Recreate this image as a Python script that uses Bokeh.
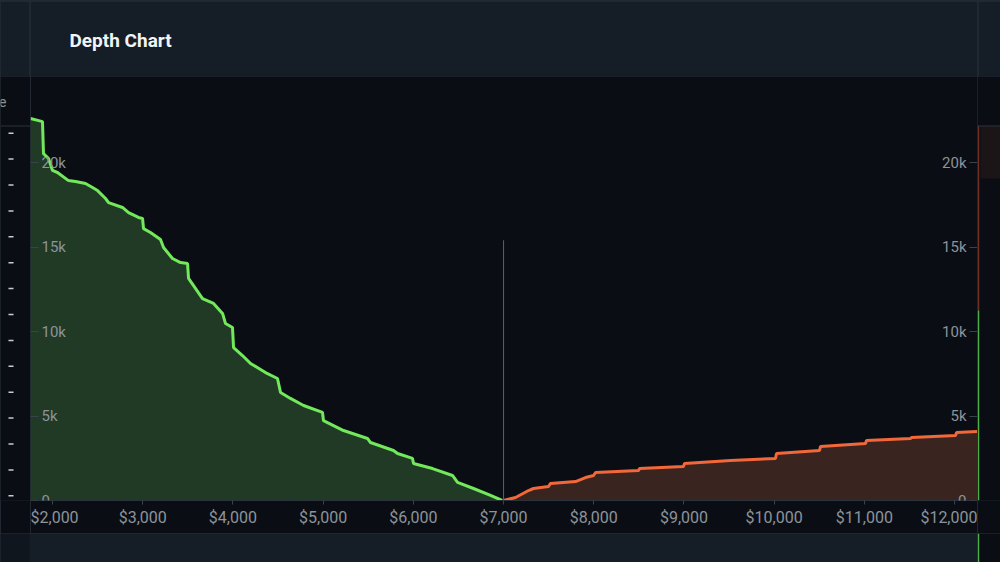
from bokeh.plotting import figure
from bokeh.models import Range1d, LinearAxis, FixedTicker, Span
from bokeh.layouts import column, row
from bokeh.embed import file_html
from bokeh.resources import INLINE
from bokeh.core.properties import value

# ---- order book depth (price in USD, cumulative size) ----
bid_prices = [1756, 1889, 1900, 1956, 2000, 2055, 2177, 2255, 2366, 2443,
              2499, 2588, 2621, 2776, 2843, 2953, 2998, 3009, 3086, 3197,
              3231, 3330, 3419, 3497, 3508, 3663, 3785, 3885, 3918, 3995,
              4007, 4106, 4195, 4361, 4494, 4528, 4638, 4783, 4993, 5004,
              5226, 5492, 5525, 5780, 5825, 5991, 6002, 6213, 6434, 6490,
              6667, 6856, 6985]
bid_depths = [22600, 22420, 20530, 20240, 19530, 19410, 18930, 18880, 18760, 18520,
              18340, 17870, 17630, 17340, 17040, 16750, 16690, 16090, 15860, 15440,
              14970, 14320, 14080, 14020, 13140, 11950, 11660, 11070, 10470, 10240,
              9050, 8580, 8110, 7570, 7220, 6390, 6040, 5620, 5210, 4730,
              4140, 3670, 3430, 2960, 2780, 2490, 2190, 1890, 1480, 1070,
              710, 300, 0]

ask_prices = [7000, 7133, 7277, 7332, 7499, 7521, 7798, 7909, 7998, 8020,
              8497, 8508, 8995, 9006, 9516, 10015, 10026, 10503, 10514, 11013,
              11024, 11512, 11523, 12011, 12022, 12254]
ask_depths = [0, 180, 590, 710, 830, 1010, 1120, 1360, 1480, 1660,
              1780, 1890, 2010, 2190, 2370, 2490, 2780, 2960, 3200, 3370,
              3550, 3670, 3730, 3850, 4020, 4080]

mid_price = 7000
mid_line_top = 15400

x_tick_values = [2000, 3000, 4000, 5000, 6000, 7000, 8000, 9000, 10000, 11000, 12000]
x_tick_labels = ["$2,000", "$3,000", "$4,000", "$5,000", "$6,000", "$7,000",
                 "$8,000", "$9,000", "$10,000", "$11,000", "$12,000"]
y_tick_values = [0, 5000, 10000, 15000, 20000]
y_tick_labels = ["0", "5k", "10k", "15k", "20k"]

# ---- theme ----
BG = "#0a0e14"
PANEL = "#151d27"
DIV = "#2a323c"
TICK_TEXT = "#8c939b"
BID_LINE, BID_FILL = "#72e85b", "#213a26"
ASK_LINE, ASK_FILL = "#f2683a", "#3a2420"
FONT = "Roboto"

X_MIN, X_MAX = 1756, 12254
FRAME_H = 424      # plotting area height shared by the middle row
AXIS_H = 33        # strip under the plotting area holding the price labels


def blank(width, height, bg, bottom=0):
    f = figure(width=width, height=height, output_backend="svg", toolbar_location=None,
               x_range=Range1d(0, width), y_range=Range1d(height - bottom, 0),
               x_axis_location=None, y_axis_location=None,
               min_border_left=0, min_border_right=0, min_border_top=0,
               min_border_bottom=bottom,
               background_fill_color=bg, border_fill_color=bg, outline_line_color=None)
    f.grid.visible = False
    return f


# ---- header bar ----
head = blank(1000, 76, PANEL)
head.text(x=[69], y=[40], text=["Depth Chart"], text_font=value(FONT),
          text_font_style="bold", text_font_size="19px", text_baseline="middle",
          text_color="#f2f4f6")
head.add_layout(Span(location=0.5, dimension="width", line_color=DIV, line_width=1))
head.add_layout(Span(location=29.5, dimension="height", line_color=DIV, line_width=1))
head.add_layout(Span(location=977.5, dimension="height", line_color=DIV, line_width=1))

# ---- left side column (order book ladder edge) ----
left = blank(30, FRAME_H + AXIS_H, BG, bottom=AXIS_H)
left.text(x=[6], y=[25], text=["Price"], text_font=value(FONT), text_font_size="14px",
          text_align="right", text_baseline="middle", text_color=TICK_TEXT)
ladder_y = [56.7 + 25.9 * i for i in range(15)]
left.segment(x0=[8] * 15, x1=[13] * 15, y0=ladder_y, y1=ladder_y,
             line_color="#c9cdd2", line_width=1.5)
left.add_layout(Span(location=49.5, dimension="width", line_color=DIV, line_width=1))

# ---- main depth chart ----
p = figure(width=947, height=FRAME_H + AXIS_H, output_backend="svg", toolbar_location=None,
           x_range=Range1d(X_MIN, X_MAX), y_range=Range1d(0, 25090),
           y_axis_location=None,
           min_border_left=0, min_border_right=0, min_border_top=0, min_border_bottom=AXIS_H,
           background_fill_color=BG, border_fill_color=BG, outline_line_color=None)
p.grid.visible = False

p.varea(x=bid_prices, y1=0, y2=bid_depths, fill_color=BID_FILL)
p.varea(x=ask_prices, y1=0, y2=ask_depths, fill_color=ASK_FILL)
p.line(x=bid_prices, y=bid_depths, line_color=BID_LINE, line_width=3)
p.line(x=ask_prices, y=ask_depths, line_color=ASK_LINE, line_width=3)
p.segment(x0=[mid_price], y0=[0], x1=[mid_price], y1=[mid_line_top],
          line_color="#5b626b", line_width=1)

xa = p.xaxis[0]
xa.ticker = FixedTicker(ticks=x_tick_values)
xa.major_label_overrides = dict(zip(x_tick_values, x_tick_labels))
xa.axis_line_color = DIV
xa.major_tick_line_color = "#3a424c"
xa.major_tick_in = 0
xa.major_tick_out = 4
xa.minor_tick_line_color = None
xa.major_label_standoff = 3
xa.major_label_text_font = FONT
xa.major_label_text_font_size = "16px"
xa.major_label_text_color = TICK_TEXT

y_overrides = dict(zip(y_tick_values, y_tick_labels))
for side, loc in (("right", X_MIN), ("left", X_MAX)):
    ya = LinearAxis(fixed_location=loc, ticker=FixedTicker(ticks=y_tick_values),
                    major_label_overrides=y_overrides)
    ya.axis_line_color = DIV
    ya.major_tick_line_color = "#3a424c"
    ya.major_tick_in = 0
    ya.major_tick_out = 8
    ya.minor_tick_line_color = None
    ya.major_label_standoff = 3
    ya.major_label_text_font = FONT
    ya.major_label_text_font_size = "15px"
    ya.major_label_text_color = TICK_TEXT
    p.add_layout(ya, side)

# ---- right side column ----
right = blank(23, FRAME_H + AXIS_H, BG, bottom=AXIS_H)
right.quad(left=[3], right=[23], top=[49], bottom=[102], fill_color="#1b1517", line_color=None)
right.add_layout(Span(location=49.5, dimension="width", line_color=DIV, line_width=1))
right.segment(x0=[1], x1=[1], y0=[49], y1=[234], line_color="#6e3024", line_width=1.5)
right.segment(x0=[1], x1=[1], y0=[234], y1=[FRAME_H], line_color="#4caf48", line_width=1.5)

# ---- footer bar ----
foot = blank(1000, 29, PANEL)
foot.quad(left=[0], right=[29], top=[0], bottom=[29], fill_color="#10161d", line_color=None)
foot.quad(left=[977], right=[1000], top=[0], bottom=[29], fill_color=BG, line_color=None)
foot.segment(x0=[978], x1=[978], y0=[0], y1=[29], line_color="#4caf48", line_width=1.5)

middle = row(left, p, right, styles={"background-color": DIV})
layout = column(head, middle, foot, styles={"background-color": DIV})

open("out.html", "w").write(file_html(layout, INLINE))
